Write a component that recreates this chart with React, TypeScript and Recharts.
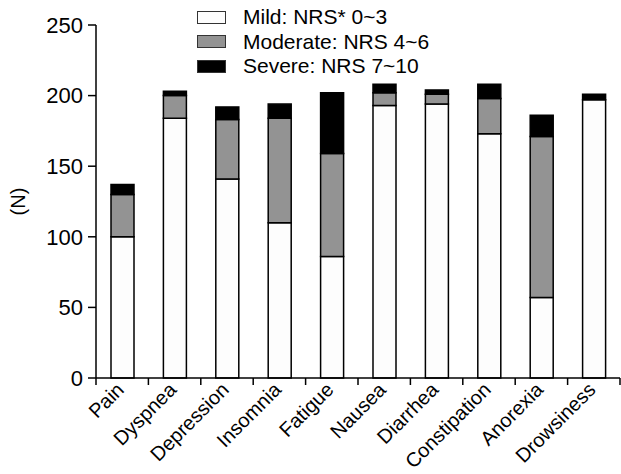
import { BarChart, Bar, XAxis, YAxis } from "recharts";

const symptoms = [
    "Pain",
    "Dyspnea",
    "Depression",
    "Insomnia",
    "Fatigue",
    "Nausea",
    "Diarrhea",
    "Constipation",
    "Anorexia",
    "Drowsiness",
];
const mild = [100, 184, 141, 110, 86, 193, 194, 173, 57, 197];
const moderate = [30, 16, 42, 74, 73, 9, 7, 25, 114, 0];
const severe = [7, 3, 9, 10, 43, 6, 3, 10, 15, 4];
const yTicks = [0, 50, 100, 150, 200, 250];

const legendItems = [
    { label: "Mild: NRS* 0~3", fill: "#fdfdfd" },
    { label: "Moderate: NRS 4~6", fill: "#939393" },
    { label: "Severe: NRS 7~10", fill: "#000000" },
];

const data = symptoms.map((name, i) => ({
    name,
    mild: mild[i],
    moderate: moderate[i],
    severe: severe[i],
}));

const FONT = "Arial, 'Liberation Sans', sans-serif";

function SymptomTick(props: any) {
    const { x, y, payload, index, visibleTicksCount } = props;
    const half = payload?.offset ? payload.offset : 26.2;
    return (
        <g>
            <line x1={x - half} x2={x - half} y1={y} y2={y + 7} stroke="#000" strokeWidth={1.5} />
            {index === visibleTicksCount - 1 && (
                <line x1={x + half} x2={x + half} y1={y} y2={y + 7} stroke="#000" strokeWidth={1.5} />
            )}
            <text
                x={x + 3}
                y={y + 13}
                transform={`rotate(-45, ${x + 3}, ${y + 13})`}
                textAnchor="end"
                fontSize={20}
                fontFamily={FONT}
                fill="#000"
            >
                {payload.value}
            </text>
        </g>
    );
}

// legend drawn as an overlay so it doesn't push the plot area down
function LegendBox() {
    return (
        <div style={{ position: "absolute", left: 197, top: 5, fontFamily: FONT, fontSize: 21, color: "#000" }}>
            {legendItems.map((item) => (
                <div key={item.label} style={{ display: "flex", alignItems: "center", height: 24.5 }}>
                    <span
                        style={{
                            display: "inline-block",
                            width: 27,
                            height: 11,
                            background: item.fill,
                            border: "1px solid #333",
                            marginRight: 17,
                        }}
                    />
                    <span>{item.label}</span>
                </div>
            ))}
        </div>
    );
}

export default function App() {
    return (
        <div style={{ position: "absolute", left: 0, top: 0, width: 621, height: 474, background: "#fff" }}>
            <BarChart
                width={621}
                height={474}
                data={data}
                margin={{ top: 25, right: 1, bottom: 6, left: 30 }}
                barSize={23}
            >
                <XAxis
                    dataKey="name"
                    height={90}
                    interval={0}
                    tickLine={false}
                    tickSize={0}
                    tickMargin={0}
                    axisLine={{ stroke: "#000", strokeWidth: 1.5 }}
                    tick={<SymptomTick />}
                />
                <YAxis
                    width={66}
                    domain={[0, 250]}
                    ticks={yTicks}
                    interval={0}
                    tickSize={8}
                    tickMargin={5}
                    axisLine={{ stroke: "#000", strokeWidth: 1.5 }}
                    tickLine={{ stroke: "#000", strokeWidth: 1.5 }}
                    tick={{ fill: "#000", fontSize: 22, fontFamily: FONT }}
                    label={{
                        value: "(N)",
                        angle: -90,
                        position: "insideLeft",
                        offset: -12,
                        style: { fill: "#000", fontSize: 20, fontFamily: FONT, textAnchor: "middle" },
                    }}
                />
                <Bar dataKey="mild" stackId="s" fill="#fdfdfd" stroke="#000" strokeWidth={1.5} isAnimationActive={false} />
                <Bar dataKey="moderate" stackId="s" fill="#939393" stroke="#000" strokeWidth={1.5} isAnimationActive={false} />
                <Bar dataKey="severe" stackId="s" fill="#000000" stroke="#000" strokeWidth={1.5} isAnimationActive={false} />
            </BarChart>
            <LegendBox />
        </div>
    );
}
